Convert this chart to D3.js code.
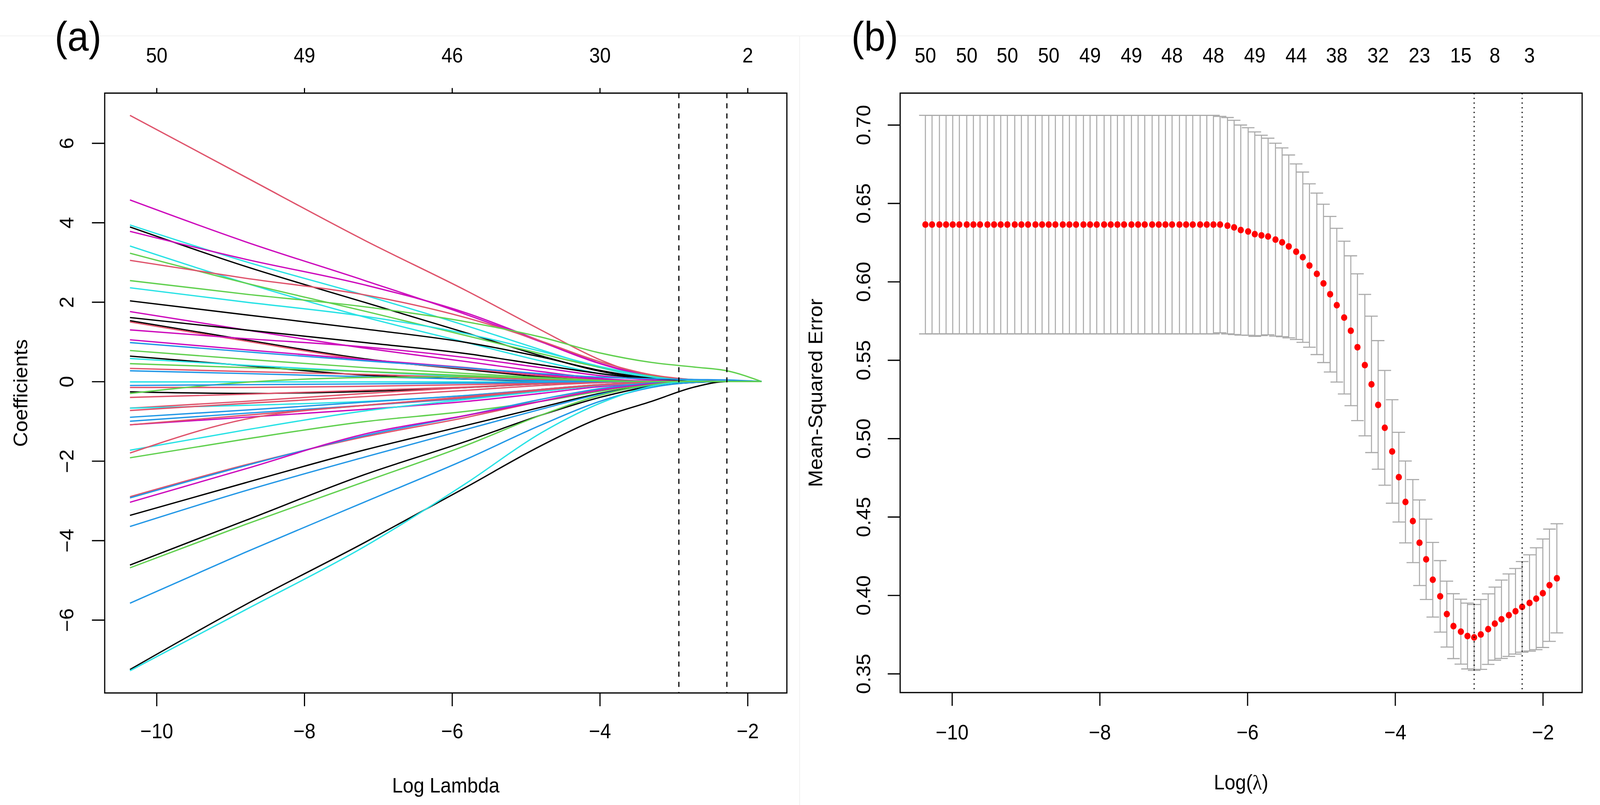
<!DOCTYPE html>
<html>
<head>
<meta charset="utf-8">
<script src="https://cdnjs.cloudflare.com/ajax/libs/d3/7.8.5/d3.min.js"></script>
<style>
  html, body { margin: 0; padding: 0; background: #fff; overflow: hidden; }
  svg { display: block; width: 100vw; height: 100vh; }
  text { font-family: "Liberation Sans", Arial, sans-serif; fill: #000; }
</style>
</head>
<body>
<svg id="chart" viewBox="0 0 4386 2062" preserveAspectRatio="none"></svg>
<script>
// ---- panel (a): lasso coefficient paths, read at a few log(lambda) knots ----
const coefKnots = [-10.36, -8.8, -7.18, -5.8, -4.8, -4.0, -3.3, -2.7, -2.28, -1.81];

const coefColors = [
  '#DF536B', '#CD0BBC', '#28E2E5', '#000000', '#CD0BBC', '#28E2E5', '#61D04F', '#DF536B', '#61D04F', '#28E2E5',
  '#000000', '#CD0BBC', '#000000', '#000000', '#DF536B', '#CD0BBC', '#CD0BBC', '#2297E6', '#61D04F', '#000000',
  '#28E2E5', '#DF536B', '#2297E6', '#28E2E5', '#DF536B', '#000000', '#61D04F', '#DF536B', '#DF536B', '#28E2E5',
  '#DF536B', '#2297E6', '#2297E6', '#CD0BBC', '#DF536B', '#28E2E5', '#DF536B', '#61D04F', '#DF536B', '#2297E6',
  '#CD0BBC', '#000000', '#2297E6', '#000000', '#61D04F', '#2297E6', '#000000', '#28E2E5', '#2297E6', '#61D04F'
];

const coefPaths = [
  [6.70, 5.15, 3.55, 2.28, 1.30, 0.55, 0.12, 0.02, 0, 0],
  [4.57, 3.52, 2.54, 1.68, 1.00, 0.45, 0.12, 0.02, 0, 0],
  [3.94, 3.02, 2.17, 1.40, 0.80, 0.35, 0.09, 0.01, 0, 0],
  [3.89, 2.90, 1.99, 1.22, 0.65, 0.26, 0.06, 0, 0, 0],
  [3.78, 3.08, 2.43, 1.72, 1.02, 0.46, 0.14, 0.03, 0, 0],
  [3.41, 2.48, 1.62, 0.98, 0.52, 0.20, 0.05, 0, 0, 0],
  [3.23, 2.48, 1.77, 1.15, 0.70, 0.36, 0.14, 0.04, 0, 0],
  [3.05, 2.60, 2.18, 1.60, 1.02, 0.50, 0.17, 0.04, 0, 0],
  [2.54, 2.20, 1.88, 1.50, 1.12, 0.72, 0.48, 0.36, 0.27, 0],
  [2.36, 2.00, 1.64, 1.20, 0.76, 0.38, 0.12, 0.02, 0, 0],
  [2.03, 1.68, 1.32, 0.98, 0.62, 0.28, 0.08, 0, 0, 0],
  [1.76, 1.30, 0.84, 0.50, 0.25, 0.08, 0.01, 0, 0, 0],
  [1.61, 1.30, 0.98, 0.70, 0.42, 0.20, 0.06, 0, 0, 0],
  [1.53, 1.05, 0.57, 0.30, 0.12, 0.03, 0, 0, 0, 0],
  [1.50, 1.02, 0.55, 0.32, 0.15, 0.05, 0, 0, 0, 0],
  [1.30, 1.08, 0.87, 0.60, 0.35, 0.15, 0.04, 0, 0, 0],
  [1.05, 0.80, 0.55, 0.35, 0.18, 0.06, 0, 0, 0, 0],
  [0.98, 0.75, 0.52, 0.34, 0.20, 0.11, 0.07, 0.05, 0.04, 0],
  [0.78, 0.56, 0.35, 0.20, 0.10, 0.03, 0, 0, 0, 0],
  [0.64, 0.40, 0.16, 0.06, 0.01, 0, 0, 0, 0, 0],
  [0.58, 0.41, 0.25, 0.12, 0.05, 0, 0, 0, 0, 0],
  [0.33, 0.25, 0.18, 0.10, 0.05, 0.01, 0, 0, 0, 0],
  [0.27, 0.20, 0.12, 0.06, 0.02, 0, 0, 0, 0, 0],
  [-0.01, -0.01, -0.01, -0.01, -0.01, 0, 0, 0, 0, 0],
  [-0.15, -0.15, -0.12, -0.08, -0.04, 0, 0, 0, 0, 0],
  [-0.26, -0.30, -0.25, -0.15, -0.06, -0.01, 0, 0, 0, 0],
  [-0.30, -0.02, 0.10, 0.12, 0.08, 0.03, 0, 0, 0, 0],
  [-0.40, -0.32, -0.22, -0.14, -0.06, -0.02, 0, 0, 0, 0],
  [-0.67, -0.50, -0.30, -0.15, -0.05, 0, 0, 0, 0, 0],
  [-0.67, -0.60, -0.50, -0.35, -0.20, -0.08, -0.02, 0, 0, 0],
  [-0.73, -0.55, -0.38, -0.22, -0.10, -0.03, 0, 0, 0, 0],
  [-0.90, -0.72, -0.52, -0.35, -0.20, -0.08, -0.02, 0, 0, 0],
  [-1.00, -0.80, -0.60, -0.42, -0.25, -0.10, -0.03, 0, 0, 0],
  [-1.09, -0.90, -0.70, -0.50, -0.30, -0.13, -0.04, 0, 0, 0],
  [-1.09, -0.85, -0.60, -0.38, -0.20, -0.08, -0.02, 0, 0, 0],
  [-1.73, -1.22, -0.74, -0.45, -0.25, -0.10, -0.03, 0, 0, 0],
  [-1.80, -0.95, -0.60, -0.40, -0.22, -0.09, -0.02, 0, 0, 0],
  [-1.92, -1.45, -1.01, -0.75, -0.50, -0.25, -0.08, 0, 0, 0],
  [-2.90, -2.10, -1.39, -0.90, -0.50, -0.20, -0.05, 0, 0, 0],
  [-2.93, -2.12, -1.36, -0.85, -0.45, -0.18, -0.04, 0, 0, 0],
  [-3.04, -2.20, -1.32, -0.85, -0.50, -0.22, -0.06, 0, 0, 0],
  [-3.37, -2.55, -1.72, -1.10, -0.65, -0.30, -0.10, -0.02, 0, 0],
  [-3.65, -2.75, -1.90, -1.20, -0.70, -0.32, -0.10, -0.02, 0, 0],
  [-4.62, -3.50, -2.34, -1.50, -0.85, -0.40, -0.12, -0.02, 0, 0],
  [-4.69, -3.60, -2.52, -1.60, -0.85, -0.35, -0.08, 0, 0, 0],
  [-5.58, -4.30, -3.03, -1.95, -1.10, -0.50, -0.15, -0.02, 0, 0],
  [-7.25, -5.62, -4.05, -2.65, -1.62, -0.92, -0.50, -0.13, 0, 0],
  [-7.28, -5.75, -4.15, -2.55, -1.30, -0.55, -0.12, 0, 0, 0],
  [-0.10, -0.08, -0.06, -0.04, -0.02, 0, 0, 0, 0, 0],
  [0.45, 0.35, 0.25, 0.15, 0.08, 0.02, 0, 0, 0, 0]
];

const xTicks = [-10, -8, -6, -4, -2];
const dfLabelsA = ['50', '49', '46', '30', '2'];
const yTicksA = [-6, -4, -2, 0, 2, 4, 6];

// ---- panel (b): cross-validated MSE ----
const logLambda = [
  -10.36, -10.27, -10.17, -10.08, -9.99, -9.90, -9.80, -9.71, -9.62, -9.52,
  -9.43, -9.34, -9.25, -9.15, -9.06, -8.97, -8.87, -8.78, -8.69, -8.60,
  -8.50, -8.41, -8.32, -8.22, -8.13, -8.04, -7.94, -7.85, -7.76, -7.67,
  -7.57, -7.48, -7.39, -7.29, -7.20, -7.11, -7.02, -6.92, -6.83, -6.74,
  -6.64, -6.55, -6.46, -6.37, -6.27, -6.18, -6.09, -5.99, -5.90, -5.81,
  -5.72, -5.62, -5.53, -5.44, -5.34, -5.25, -5.16, -5.06, -4.97, -4.88,
  -4.79, -4.69, -4.60, -4.51, -4.41, -4.32, -4.23, -4.14, -4.04, -3.95,
  -3.86, -3.76, -3.67, -3.58, -3.49, -3.39, -3.30, -3.21, -3.11, -3.02,
  -2.93, -2.84, -2.74, -2.65, -2.56, -2.46, -2.37, -2.28, -2.18, -2.09,
  -2.00, -1.91, -1.81
];

const cvm = [
  0.6364, 0.6364, 0.6364, 0.6364, 0.6364, 0.6364, 0.6364, 0.6364, 0.6364, 0.6364,
  0.6364, 0.6364, 0.6364, 0.6364, 0.6364, 0.6364, 0.6364, 0.6364, 0.6364, 0.6364,
  0.6364, 0.6364, 0.6364, 0.6364, 0.6364, 0.6364, 0.6364, 0.6364, 0.6364, 0.6364,
  0.6364, 0.6364, 0.6364, 0.6364, 0.6364, 0.6364, 0.6364, 0.6364, 0.6364, 0.6364,
  0.6364, 0.6364, 0.6364, 0.6364, 0.6357, 0.6346, 0.6329, 0.6320, 0.6303, 0.6295,
  0.6288, 0.6268, 0.6251, 0.6225, 0.6191, 0.6156, 0.6103, 0.6050, 0.5989, 0.5920,
  0.5850, 0.5771, 0.5687, 0.5582, 0.5468, 0.5345, 0.5214, 0.5068, 0.4917, 0.4753,
  0.4595, 0.4473, 0.4335, 0.4229, 0.4099, 0.3993, 0.3880, 0.3803, 0.3768, 0.3740,
  0.3731, 0.3750, 0.3784, 0.3819, 0.3847, 0.3873, 0.3898, 0.3926, 0.3951, 0.3978,
  0.4013, 0.4064, 0.4108
];

const cvsd = [
  0.0697, 0.0697, 0.0697, 0.0697, 0.0697, 0.0697, 0.0697, 0.0697, 0.0697, 0.0697,
  0.0697, 0.0697, 0.0697, 0.0697, 0.0697, 0.0697, 0.0697, 0.0697, 0.0697, 0.0697,
  0.0697, 0.0697, 0.0697, 0.0697, 0.0697, 0.0697, 0.0697, 0.0697, 0.0697, 0.0697,
  0.0697, 0.0697, 0.0697, 0.0697, 0.0697, 0.0697, 0.0697, 0.0697, 0.0697, 0.0697,
  0.0697, 0.0697, 0.0697, 0.0690, 0.0690, 0.0683, 0.0670, 0.0662, 0.0652, 0.0639,
  0.0627, 0.0615, 0.0602, 0.0583, 0.0560, 0.0543, 0.0521, 0.0515, 0.0505, 0.0496,
  0.0490, 0.0487, 0.0478, 0.0468, 0.0451, 0.0435, 0.0410, 0.0366, 0.0330, 0.0286,
  0.0261, 0.0265, 0.0273, 0.0256, 0.0238, 0.0228, 0.0210, 0.0207, 0.0207, 0.0210,
  0.0210, 0.0223, 0.0225, 0.0233, 0.0250, 0.0263, 0.0273, 0.0289, 0.0307, 0.0325,
  0.0346, 0.0358, 0.0348
];

const nzLabelsB = ['50', '50', '50', '50', '49', '49', '48', '48', '49', '44', '38', '32', '23', '15', '8', '3'];
const nzAtB = [-10.36, -9.80, -9.25, -8.69, -8.13, -7.57, -7.02, -6.46, -5.90, -5.34, -4.79, -4.23, -3.67, -3.11, -2.65, -2.18];
const yTicksB = [0.35, 0.40, 0.45, 0.50, 0.55, 0.60, 0.65, 0.70];

const lambdaMinLog = -2.93;
const lambda1seLog = -2.28;

// ---- layout ----
const FONT = 53;
const LW = 3.2;
const A = { left: 287, right: 2157, top: 238.5, bottom: 1775 };
const B = { left: 2467.5, right: 4337, top: 238.5, bottom: 1774 };

const svg = d3.select('#chart');

// R style 4% axis padding
function padDomain(lo, hi) {
    const r = hi - lo;
    return [lo - 0.04 * r, hi + 0.04 * r];
}

function styleAxis(g) {
    g.select('.domain').remove();
    g.attr('font-family', '"Liberation Sans", Arial, sans-serif').attr('font-size', FONT);
    g.selectAll('.tick line').attr('stroke', '#000').attr('stroke-width', LW);
    g.selectAll('.tick text').attr('fill', '#000');
}

function rotateLeftLabels(offset) {
    return g => g.selectAll('.tick text')
        .attr('x', null)
        .attr('dy', '0.36em')
        .attr('text-anchor', 'middle')
        .attr('transform', `translate(${-offset},0) rotate(-90)`);
}

// faint frame lines left over from the composite figure
svg.append('line').attr('x1', 0).attr('x2', 4386).attr('y1', 92).attr('y2', 92)
    .attr('stroke', '#f1f1f1').attr('stroke-width', 2);
svg.append('line').attr('x1', 2192).attr('x2', 2192).attr('y1', 92).attr('y2', 2062)
    .attr('stroke', '#f1f1f1').attr('stroke-width', 2);

// ================= panel (a) =================
const gA = svg.append('g');

const xA = d3.scaleLinear()
    .domain(padDomain(d3.min(coefKnots), d3.max(coefKnots)))
    .range([A.left, A.right]);
const allCoef = coefPaths.flat();
const yA = d3.scaleLinear()
    .domain(padDomain(d3.min(allCoef), d3.max(allCoef)))
    .range([A.bottom, A.top]);

const coefLine = d3.line()
    .x((d, i) => xA(coefKnots[i]))
    .y(d => yA(d))
    .curve(d3.curveMonotoneX);

gA.selectAll('path.coef')
    .data(coefPaths)
    .join('path')
    .attr('class', 'coef')
    .attr('d', coefLine)
    .attr('fill', 'none')
    .attr('stroke', (d, i) => coefColors[i])
    .attr('stroke-width', 3.4);

// dashed lambda.min / lambda.1se
gA.selectAll('line.vref')
    .data([lambdaMinLog, lambda1seLog])
    .join('line')
    .attr('class', 'vref')
    .attr('x1', d => xA(d)).attr('x2', d => xA(d))
    .attr('y1', A.top).attr('y2', A.bottom)
    .attr('stroke', '#000')
    .attr('stroke-width', LW)
    .attr('stroke-dasharray', '13,13');

gA.append('g')
    .attr('transform', `translate(0,${A.bottom})`)
    .call(d3.axisBottom(xA).tickValues(xTicks).tickSize(34).tickPadding(44))
    .call(styleAxis);

gA.append('g')
    .attr('transform', `translate(0,${A.top})`)
    .call(d3.axisTop(xA).tickValues(xTicks).tickFormat((d, i) => dfLabelsA[i]).tickSize(13).tickPadding(66))
    .call(styleAxis);

gA.append('g')
    .attr('transform', `translate(${A.left},0)`)
    .call(d3.axisLeft(yA).tickValues(yTicksA).tickSize(35))
    .call(styleAxis)
    .call(rotateLeftLabels(105));

gA.append('rect')
    .attr('x', A.left).attr('y', A.top)
    .attr('width', A.right - A.left).attr('height', A.bottom - A.top)
    .attr('fill', 'none').attr('stroke', '#000').attr('stroke-width', LW);

gA.append('text')
    .attr('x', (A.left + A.right) / 2).attr('y', 2030)
    .attr('text-anchor', 'middle').attr('font-size', FONT)
    .text('Log Lambda');

gA.append('text')
    .attr('transform', `translate(56,${(A.top + A.bottom) / 2}) rotate(-90)`)
    .attr('dy', '0.36em')
    .attr('text-anchor', 'middle').attr('font-size', FONT)
    .text('Coefficients');

gA.append('text')
    .attr('x', 214).attr('y', 130)
    .attr('text-anchor', 'middle').attr('font-size', 105)
    .text('(a)');

// ================= panel (b) =================
const gB = svg.append('g');

const xB = d3.scaleLinear()
    .domain(padDomain(d3.min(logLambda), d3.max(logLambda)))
    .range([B.left, B.right]);
const cvUp = cvm.map((m, i) => m + cvsd[i]);
const cvLo = cvm.map((m, i) => m - cvsd[i]);
const yB = d3.scaleLinear()
    .domain(padDomain(d3.min(cvLo), d3.max(cvUp)))
    .range([B.bottom, B.top]);

const barw = 0.01 * (d3.max(logLambda) - d3.min(logLambda));
const bars = logLambda.map((l, i) => ({ l, m: cvm[i], up: cvUp[i], lo: cvLo[i] }));

const errG = gB.append('g').attr('stroke', '#A9A9A9').attr('stroke-width', 2.8);
errG.selectAll('line.stem').data(bars).join('line')
    .attr('class', 'stem')
    .attr('x1', d => xB(d.l)).attr('x2', d => xB(d.l))
    .attr('y1', d => yB(d.up)).attr('y2', d => yB(d.lo));
errG.selectAll('line.capU').data(bars).join('line')
    .attr('class', 'capU')
    .attr('x1', d => xB(d.l - barw)).attr('x2', d => xB(d.l + barw))
    .attr('y1', d => yB(d.up)).attr('y2', d => yB(d.up));
errG.selectAll('line.capL').data(bars).join('line')
    .attr('class', 'capL')
    .attr('x1', d => xB(d.l - barw)).attr('x2', d => xB(d.l + barw))
    .attr('y1', d => yB(d.lo)).attr('y2', d => yB(d.lo));

gB.selectAll('circle.pt').data(bars).join('circle')
    .attr('class', 'pt')
    .attr('cx', d => xB(d.l)).attr('cy', d => yB(d.m))
    .attr('r', 8.5)
    .attr('fill', '#FF0000');

gB.selectAll('line.vref')
    .data([lambdaMinLog, lambda1seLog])
    .join('line')
    .attr('class', 'vref')
    .attr('x1', d => xB(d)).attr('x2', d => xB(d))
    .attr('y1', B.top).attr('y2', B.bottom)
    .attr('stroke', '#000')
    .attr('stroke-width', LW)
    .attr('stroke-dasharray', '3,9');

gB.append('g')
    .attr('transform', `translate(0,${B.bottom})`)
    .call(d3.axisBottom(xB).tickValues(xTicks).tickSize(34).tickPadding(48))
    .call(styleAxis);

gB.append('g')
    .attr('transform', `translate(${B.left},0)`)
    .call(d3.axisLeft(yB).tickValues(yTicksB).tickFormat(d3.format('.2f')).tickSize(34))
    .call(styleAxis)
    .call(rotateLeftLabels(101));

// number of non-zero coefficients, no tick marks
gB.selectAll('text.nz')
    .data(nzLabelsB)
    .join('text')
    .attr('class', 'nz')
    .attr('x', (d, i) => xB(nzAtB[i]))
    .attr('y', 160)
    .attr('text-anchor', 'middle')
    .attr('font-size', FONT)
    .text(d => d);

gB.append('rect')
    .attr('x', B.left).attr('y', B.top)
    .attr('width', B.right - B.left).attr('height', B.bottom - B.top)
    .attr('fill', 'none').attr('stroke', '#000').attr('stroke-width', LW);

const xlabB = gB.append('text')
    .attr('x', (B.left + B.right) / 2).attr('y', 2022)
    .attr('text-anchor', 'middle').attr('font-size', FONT);
xlabB.append('tspan').text('Log(');
xlabB.append('tspan').attr('font-family', '"Liberation Serif", "DejaVu Serif", serif').text('λ');
xlabB.append('tspan').text(')');

gB.append('text')
    .attr('transform', `translate(2235,${(B.top + B.bottom) / 2}) rotate(-90)`)
    .attr('dy', '0.36em')
    .attr('text-anchor', 'middle').attr('font-size', FONT)
    .text('Mean-Squared Error');

gB.append('text')
    .attr('x', 2398).attr('y', 130)
    .attr('text-anchor', 'middle').attr('font-size', 105)
    .text('(b)');
</script>
</body>
</html>
